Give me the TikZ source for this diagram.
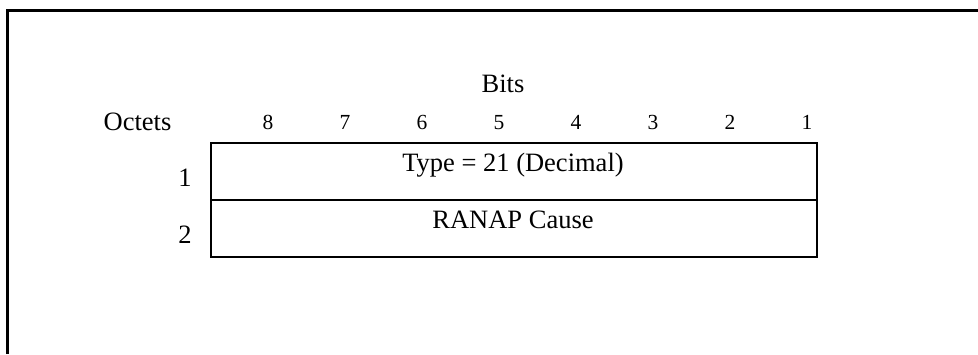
\documentclass[tikz,border=0pt]{standalone}
\usepackage{fontspec}
\setmainfont{Liberation Serif}
\tikzset{
	label/.style={font=\fontsize{13.25}{15}\selectfont, inner sep=0pt, anchor=base},
	bitnum/.style={font=\fontsize{10.75}{13}\selectfont, inner sep=0pt, anchor=base},
	fieldline/.style={line width=1pt},
}
\begin{document}
\begin{tikzpicture}[x=0.5pt,y=-0.5pt]
	\useasboundingbox (0,0) rectangle (978,354);
	% outer frame (open to the right and bottom)
	\draw[line width=1.5pt] (7,354) -- (7,10) -- (978,10);
	
	% header
	\node[label] (bits) at (503,92) {Bits};
	\node[label] (octets) at (137.5,130) {Octets};
	\foreach \b in {1,...,8}
		\node[bitnum] (bit\b) at ({268+77*(8-\b)},129) {\b};
	
	% the two octets
	\coordinate (tl) at (211,143);
	\coordinate (ml) at (211,200);
	\coordinate (mr) at (817,200);
	\coordinate (br) at (817,257);
	\draw[fieldline] (tl) rectangle (br);
	\draw[fieldline] (ml) -- (mr);
	
	% field contents
	\node[label] (type) at (513,171.5) {Type = 21 (Decimal)};
	\node[label] (cause) at (513,228) {RANAP Cause};
	
	% octet numbers
	\node[label] (oct1) at (185,186) {1};
	\node[label] (oct2) at (185,243) {2};
\end{tikzpicture}
\end{document}
